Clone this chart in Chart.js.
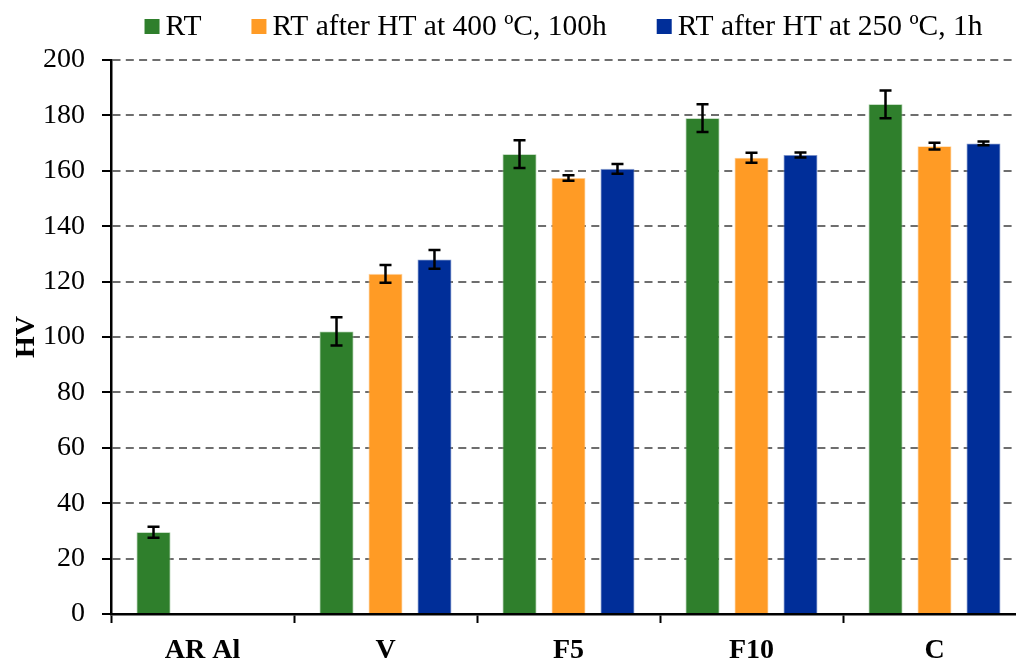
<!DOCTYPE html>
<html><head><meta charset="utf-8">
<script src="https://cdn.jsdelivr.net/npm/chart.js@4"></script>
<style>
html,body{margin:0;padding:0;background:#fff;overflow:hidden;}
#wrap{width:1030px;height:659px;position:relative;}
</style></head>
<body><div id="wrap"><canvas id="c"></canvas></div>
<script>
const categories = ['AR Al', 'V', 'F5', 'F10', 'C'];
const seriesNames = ['RT', 'RT after HT at 400 ºC, 100h', 'RT after HT at 250 ºC, 1h'];
const rt = [29.5, 102, 166, 179, 184];
const rtErr = [2, 5.1, 5, 5, 5];
const ht400 = [null, 122.8, 157.4, 164.7, 168.9];
const ht400Err = [null, 3.2, 1, 1.8, 1.2];
const ht250 = [null, 128, 160.7, 165.7, 169.9];
const ht250Err = [null, 3.4, 1.8, 0.9, 0.7];
const yTicks = [0, 20, 40, 60, 80, 100, 120, 140, 160, 180, 200];

const FONT = "'Liberation Serif', 'Times New Roman', serif";
const COLORS = ['#2F7F2C', '#FF9B25', '#002E99'];

const errorBars = {
  id: 'errorBars',
  afterDatasetsDraw(chart) {
    const ctx = chart.ctx;
    const y = chart.scales.y;
    ctx.save();
    ctx.strokeStyle = '#000';
    ctx.lineWidth = 2.5;
    chart.data.datasets.forEach((ds, i) => {
      const meta = chart.getDatasetMeta(i);
      meta.data.forEach((bar, j) => {
        const v = ds.data[j], e = ds.err[j];
        if (v == null || e == null) return;
        const x = bar.x;
        const yt = y.getPixelForValue(v + e), yb = y.getPixelForValue(v - e);
        ctx.beginPath();
        ctx.moveTo(x, yt); ctx.lineTo(x, yb);
        ctx.moveTo(x - 6, yt); ctx.lineTo(x + 6, yt);
        ctx.moveTo(x - 6, yb); ctx.lineTo(x + 6, yb);
        ctx.stroke();
      });
    });
    ctx.restore();
  }
};

// Legend drawn on the canvas: small square, short gap, label text
const topLegend = {
  id: 'topLegend',
  afterDraw(chart) {
    const ctx = chart.ctx;
    const box = 15, gap = 6, itemGap = 50, cy = 26.5;
    ctx.save();
    ctx.font = '29.5px ' + FONT;
    ctx.textBaseline = 'middle';
    const items = chart.data.datasets.map(ds => ({ text: ds.label, color: ds.backgroundColor, w: ctx.measureText(ds.label).width }));
    let total = 0;
    items.forEach((it, i) => { total += box + gap + it.w + (i < items.length - 1 ? itemGap : 0); });
    const ca = chart.chartArea;
    let x = (ca.left + ca.right) / 2 - total / 2 - 5;
    items.forEach(it => {
      ctx.fillStyle = it.color;
      ctx.fillRect(x, cy - box / 2, box, box);
      x += box + gap;
      ctx.fillStyle = '#000';
      ctx.fillText(it.text, x, cy + 1);
      x += it.w + itemGap;
    });
    ctx.restore();
  }
};

new Chart(document.getElementById('c'), {
  type: 'bar',
  data: {
    labels: categories,
    datasets: [
      { label: seriesNames[0], data: rt, err: rtErr, backgroundColor: COLORS[0], borderColor: '#9CC59A', borderWidth: 0.8 },
      { label: seriesNames[1], data: ht400, err: ht400Err, backgroundColor: COLORS[1], borderColor: '#FFD19A', borderWidth: 0.8 },
      { label: seriesNames[2], data: ht250, err: ht250Err, backgroundColor: COLORS[2], borderColor: '#7F97CC', borderWidth: 0.8 }
    ]
  },
  options: {
    responsive: true,
    maintainAspectRatio: false,
    animation: false,
    devicePixelRatio: 1,
    layout: { padding: { left: 0, right: 4, top: 60, bottom: 0 } },
    datasets: { bar: { categoryPercentage: 0.803, barPercentage: 0.694 } },
    plugins: {
      tooltip: { enabled: false },
      legend: { display: false }
    },
    scales: {
      x: {
        grid: { display: true, offset: true, drawOnChartArea: false, drawTicks: true, tickLength: 9, tickColor: '#000', tickWidth: 2 },
        border: { display: true, color: '#000', width: 2.5 },
        ticks: { font: { family: FONT, size: 28, weight: 'bold' }, color: '#000', padding: 11 },
        afterFit(s) { s.height = 45; }
      },
      y: {
        min: 0, max: 200,
        afterBuildTicks(s) { s.ticks = yTicks.map(v => ({ value: v })); },
        grid: { color: '#6E6E6E', lineWidth: 2, tickColor: '#000', tickWidth: 2, tickLength: 9, tickBorderDash: [] },
        border: { display: true, color: '#000', width: 2.5, dash: [8, 5.3] },
        ticks: { font: { family: FONT, size: 28 }, color: '#000', padding: 17 },
        title: { display: true, text: 'HV', font: { family: FONT, size: 28, weight: 'bold' }, color: '#000', padding: { top: 10, bottom: 0 } },
        afterFit(s) { s.width = 111; }
      }
    }
  },
  plugins: [errorBars, topLegend]
});
</script>
</body></html>
